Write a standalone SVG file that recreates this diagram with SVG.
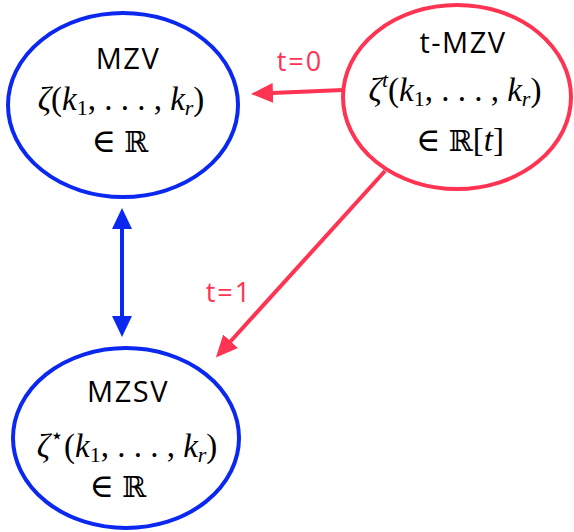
<svg xmlns="http://www.w3.org/2000/svg" width="574" height="532" viewBox="0 0 574 532">
<style>
.blue{fill:#fff;stroke:#0a28f0;stroke-width:4}
.red{fill:#fff;stroke:#ff3352;stroke-width:4}
.title{font-family:"Open Sans","Liberation Sans",sans-serif;font-size:29px;letter-spacing:1.5px;fill:#000;text-anchor:middle}
.math{font-family:"Liberation Serif","DejaVu Serif",serif;font-size:33px;fill:#000;text-anchor:middle}
.i{font-style:italic}
.sub{font-size:22px}
.bb{font-family:"DejaVu Serif",serif;font-size:29px}
.lbl{font-family:"Open Sans","Liberation Sans",sans-serif;font-size:27px;letter-spacing:2px;fill:#ff3352;text-anchor:middle}
.rline{stroke:#ff3352;stroke-width:4;fill:none}
.bline{stroke:#0a28f0;stroke-width:4;fill:none}
</style>
<defs>
<marker id="ah-red" markerUnits="userSpaceOnUse" viewBox="0 0 22 20" markerWidth="22" markerHeight="20" refX="1" refY="10" orient="auto"><path d="M0,0 L22,10 L0,20 z" fill="#ff3352"/></marker>
<marker id="ah-blue" markerUnits="userSpaceOnUse" viewBox="0 0 21 20" markerWidth="21" markerHeight="20" refX="1" refY="10" orient="auto-start-reverse"><path d="M0,0 L21,10 L0,20 z" fill="#0a28f0"/></marker>
</defs>
<g id="connectors">
<line class="rline" x1="343" y1="90" x2="272" y2="93" marker-end="url(#ah-red)"/>
<text class="lbl" x="300" y="71">t=0</text>
<line class="rline" x1="385" y1="171" x2="230" y2="342" marker-end="url(#ah-red)"/>
<text class="lbl" x="229" y="302">t=1</text>
<line class="bline" x1="122" y1="228" x2="122" y2="317" marker-start="url(#ah-blue)" marker-end="url(#ah-blue)"/>
</g>
<g id="mzv">
<ellipse class="blue" cx="123" cy="105" rx="115" ry="92"/>
<text class="title" x="128" y="69">MZV</text>
<text class="math" x="121" y="110"><tspan class="i">ζ</tspan>(<tspan class="i">k</tspan><tspan class="sub" dy="5">1</tspan><tspan dy="-5">, . . . , </tspan><tspan class="i">k</tspan><tspan class="sub i" dy="5">r</tspan><tspan dy="-5">)</tspan></text>
<text class="math" x="120" y="152">∈ <tspan class="bb">ℝ</tspan></text>
</g>
<g id="tmzv">
<ellipse class="red" cx="457" cy="97" rx="114" ry="92"/>
<text class="title" x="463" y="53">t-MZV</text>
<text class="math" x="455" y="101"><tspan class="i">ζ</tspan><tspan class="sub i" dy="-14">t</tspan><tspan dy="14">(</tspan><tspan class="i">k</tspan><tspan class="sub" dy="5">1</tspan><tspan dy="-5">, . . . , </tspan><tspan class="i">k</tspan><tspan class="sub i" dy="5">r</tspan><tspan dy="-5">)</tspan></text>
<text class="math" x="460" y="151">∈ <tspan class="bb">ℝ</tspan>[<tspan class="i">t</tspan>]</text>
</g>
<g id="mzsv">
<ellipse class="blue" cx="126" cy="438" rx="113" ry="90"/>
<text class="title" x="128" y="402">MZSV</text>
<text class="math" x="127" y="457"><tspan class="i">ζ</tspan><tspan class="sub" dy="-14">⋆</tspan><tspan dy="14">(</tspan><tspan class="i">k</tspan><tspan class="sub" dy="5">1</tspan><tspan dy="-5">, . . . , </tspan><tspan class="i">k</tspan><tspan class="sub i" dy="5">r</tspan><tspan dy="-5">)</tspan></text>
<text class="math" x="118" y="497">∈ <tspan class="bb">ℝ</tspan></text>
</g>
</svg>
